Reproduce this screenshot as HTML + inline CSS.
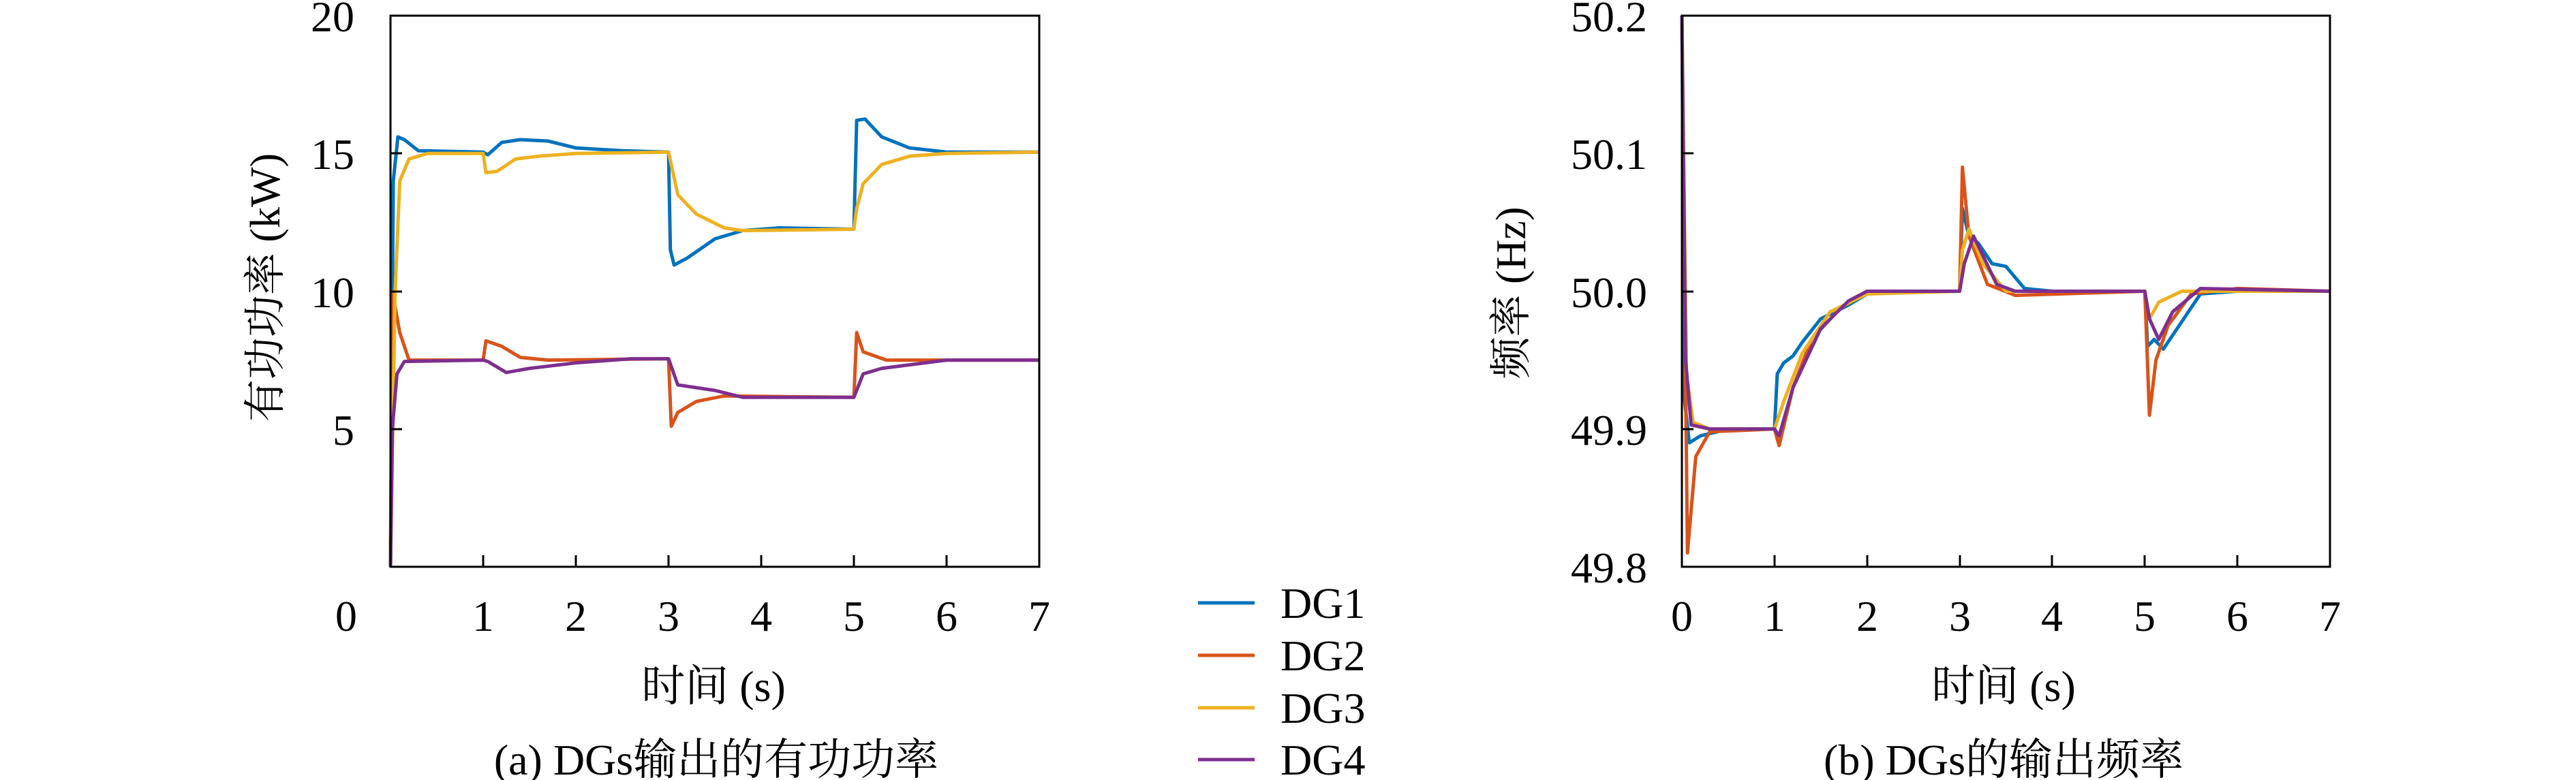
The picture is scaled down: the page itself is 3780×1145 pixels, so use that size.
<!DOCTYPE html>
<html><head><meta charset="utf-8"><style>
html,body{margin:0;padding:0;background:#fff;}
svg{display:block;}
</style></head><body>
<svg width="3780" height="1145" viewBox="0 0 3780 1145" xmlns="http://www.w3.org/2000/svg" font-family="'Liberation Serif', 'Noto Serif CJK SC', serif" style="font-family:'Liberation Serif','Noto Serif CJK SC',serif">
<!-- Left chart -->
<g fill="none" stroke-linejoin="round" transform="translate(573,832) scale(136,-40.45)">
<polyline vector-effect="non-scaling-stroke" stroke="#0072BD" stroke-width="5" points="0,0 0.03,14 0.08,15.6 0.15,15.5 0.3,15.1 1,15.05 1.05,14.95 1.2,15.4 1.4,15.5 1.7,15.45 2,15.2 2.5,15.1 3,15.05 3.02,11.5 3.06,10.95 3.2,11.2 3.5,11.9 3.8,12.2 4.2,12.3 5,12.25 5.03,16.2 5.12,16.25 5.3,15.6 5.6,15.2 6,15.05 7,15.05"/>
<polyline vector-effect="non-scaling-stroke" stroke="#D95319" stroke-width="5" points="0,0 0.02,10 0.1,8.5 0.2,7.5 0.4,7.5 1,7.5 1.03,8.2 1.2,8 1.4,7.6 1.7,7.5 3,7.55 3.03,5.1 3.1,5.6 3.3,6 3.6,6.2 5,6.15 5.03,8.5 5.1,7.8 5.35,7.5 5.6,7.5 7,7.5"/>
<polyline vector-effect="non-scaling-stroke" stroke="#EDB120" stroke-width="5" points="0,0 0.05,10 0.1,14 0.2,14.8 0.4,15 1,15 1.03,14.3 1.15,14.35 1.35,14.8 1.6,14.9 2,15 3,15.05 3.1,13.5 3.3,12.8 3.6,12.3 3.8,12.2 5,12.25 5.03,13 5.1,13.9 5.3,14.6 5.6,14.9 6,15 7,15.05"/>
<polyline vector-effect="non-scaling-stroke" stroke="#7E2F8E" stroke-width="5" points="0,0 0.02,5 0.07,7 0.15,7.45 1,7.5 1.05,7.45 1.25,7.05 1.5,7.2 2,7.4 2.6,7.55 3,7.55 3.1,6.6 3.5,6.4 3.8,6.15 5,6.15 5.1,7 5.3,7.2 6,7.5 7,7.5"/>
</g>
<rect x="573" y="23" width="952" height="809" fill="none" stroke="#000" stroke-width="3"/>
<g stroke="#000" stroke-width="3">
<line x1="573" y1="225" x2="590" y2="225"/><line x1="573" y1="428" x2="590" y2="428"/><line x1="573" y1="630" x2="590" y2="630"/>
<line x1="709" y1="832" x2="709" y2="815"/><line x1="845" y1="832" x2="845" y2="815"/><line x1="981" y1="832" x2="981" y2="815"/><line x1="1117" y1="832" x2="1117" y2="815"/><line x1="1253" y1="832" x2="1253" y2="815"/><line x1="1389" y1="832" x2="1389" y2="815"/>
</g>
<g font-size="64" text-anchor="end">
<text x="520" y="46">20</text><text x="520" y="248">15</text><text x="520" y="451">10</text><text x="520" y="653">5</text>
</g>
<g font-size="64" text-anchor="middle">
<text x="508" y="926">0</text><text x="709" y="926">1</text><text x="845" y="926">2</text><text x="981" y="926">3</text><text x="1117" y="926">4</text><text x="1253" y="926">5</text><text x="1389" y="926">6</text><text x="1525" y="926">7</text>
<text x="1047" y="1029">时间 (s)</text>
<text x="1051" y="1137">(a) DGs输出的有功功率</text>
</g>
<text font-size="62" text-anchor="middle" transform="translate(410,422) rotate(-90)">有功功率 (kW)</text>

<!-- Right chart -->
<g fill="none" stroke-linejoin="round" transform="translate(2468,832) scale(135.86,-20.225)">
<polyline vector-effect="non-scaling-stroke" stroke="#0072BD" stroke-width="5" points="0,40 0.03,12 0.08,9 0.2,9.5 0.5,10 1,10 1.03,14 1.1,14.8 1.2,15.3 1.3,16.3 1.5,18 1.8,19 2,19.8 2.5,20 3,20 3.03,26 3.1,24 3.2,23.5 3.35,22 3.5,21.8 3.7,20.2 4,20 5,20 5.03,16 5.1,16.5 5.2,15.8 5.35,17.3 5.6,19.8 6,20 7,20"/>
<polyline vector-effect="non-scaling-stroke" stroke="#D95319" stroke-width="5" points="0,40 0.03,20 0.06,1 0.15,8 0.3,9.8 1,10 1.05,8.8 1.2,13 1.4,16.5 1.7,18.7 2,20 3,20 3.03,29 3.1,24 3.3,20.5 3.6,19.7 5,20 5.05,11 5.12,15 5.25,17.5 5.5,19.8 6,20.2 7,20"/>
<polyline vector-effect="non-scaling-stroke" stroke="#EDB120" stroke-width="5" points="0,40 0.05,14 0.12,10.5 0.3,10 1,10 1.1,12 1.3,15.5 1.6,18.5 2,19.8 3,20 3.03,23 3.1,24.5 3.25,22 3.5,20 5,20 5.05,18 5.15,19.2 5.4,20 7,20"/>
<polyline vector-effect="non-scaling-stroke" stroke="#7E2F8E" stroke-width="5" points="0,40 0.04,15 0.1,10.3 0.3,10 1,10 1.05,9.5 1.2,13 1.5,17.3 1.8,19.3 2,20 3,20 3.05,22 3.15,24 3.4,20.5 3.6,20 5,20 5.05,18 5.15,16.5 5.3,18.5 5.6,20.2 7,20"/>
</g>
<rect x="2468" y="23" width="951" height="809" fill="none" stroke="#000" stroke-width="3"/>
<g stroke="#000" stroke-width="3">
<line x1="2468" y1="225" x2="2485" y2="225"/><line x1="2468" y1="428" x2="2485" y2="428"/><line x1="2468" y1="630" x2="2485" y2="630"/>
<line x1="2604" y1="832" x2="2604" y2="815"/><line x1="2740" y1="832" x2="2740" y2="815"/><line x1="2876" y1="832" x2="2876" y2="815"/><line x1="3011" y1="832" x2="3011" y2="815"/><line x1="3147" y1="832" x2="3147" y2="815"/><line x1="3283" y1="832" x2="3283" y2="815"/>
</g>
<g font-size="64" text-anchor="end">
<text x="2417" y="46">50.2</text><text x="2417" y="248">50.1</text><text x="2417" y="451">50.0</text><text x="2417" y="653">49.9</text><text x="2417" y="855">49.8</text>
</g>
<g font-size="64" text-anchor="middle">
<text x="2468" y="926">0</text><text x="2604" y="926">1</text><text x="2740" y="926">2</text><text x="2876" y="926">3</text><text x="3011" y="926">4</text><text x="3147" y="926">5</text><text x="3283" y="926">6</text><text x="3419" y="926">7</text>
<text x="2940" y="1029">时间 (s)</text>
<text x="2940" y="1137">(b) DGs的输出频率</text>
</g>
<text font-size="62" text-anchor="middle" transform="translate(2238,430) rotate(-90)">频率 (Hz)</text>

<!-- Legend -->
<g stroke-width="5">
<line x1="1758" y1="885" x2="1841" y2="885" stroke="#0072BD"/>
<line x1="1758" y1="962" x2="1841" y2="962" stroke="#D95319"/>
<line x1="1758" y1="1039" x2="1841" y2="1039" stroke="#EDB120"/>
<line x1="1758" y1="1115" x2="1841" y2="1115" stroke="#7E2F8E"/>
</g>
<g font-size="64">
<text x="1879" y="907">DG1</text><text x="1879" y="984">DG2</text><text x="1879" y="1061">DG3</text><text x="1879" y="1137">DG4</text>
</g>
</svg>
</body></html>
